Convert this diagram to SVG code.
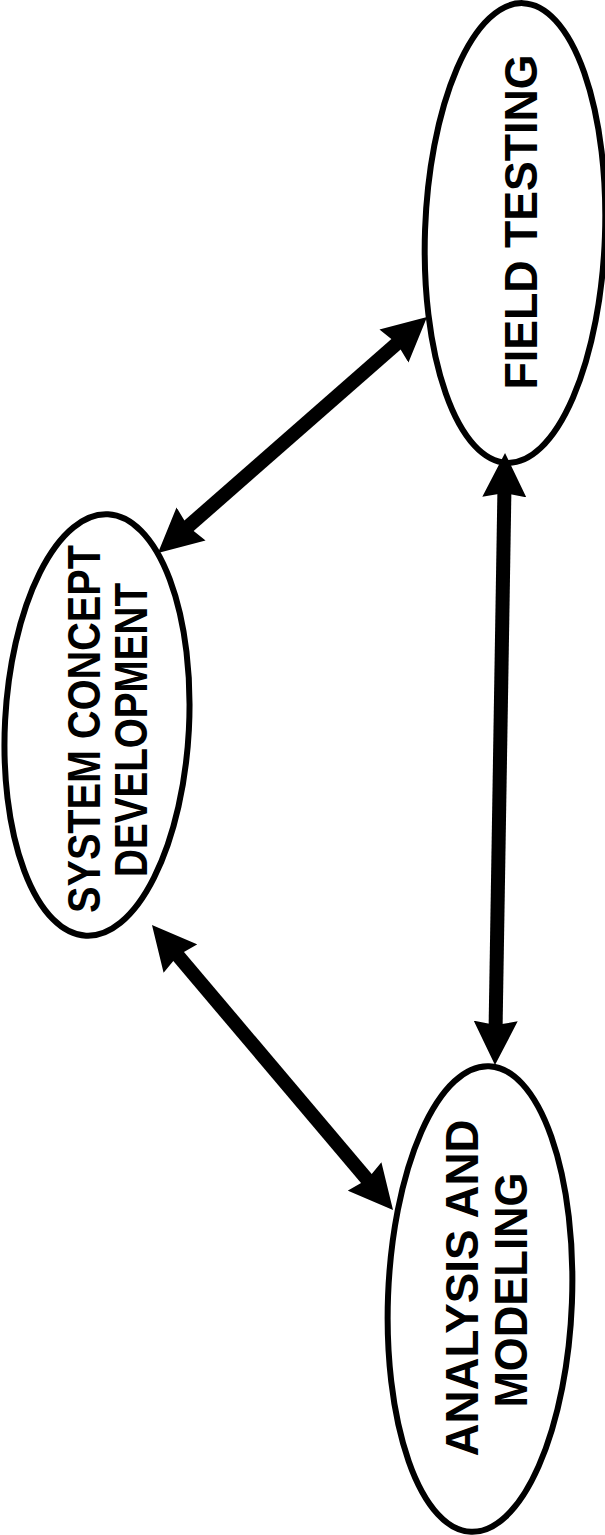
<svg xmlns="http://www.w3.org/2000/svg" width="605" height="1535" viewBox="0 0 605 1535">
<style>
.node{fill:#fff;stroke:#000;stroke-width:6}
.lbl{font-family:"Liberation Sans",Arial,sans-serif;font-weight:bold;font-size:47px;fill:#000;text-anchor:middle}
.conn{stroke:#000;stroke-width:14;fill:none;marker-start:url(#ah);marker-end:url(#ah)}
</style>
<defs>
<marker id="ah" viewBox="0 0 44 44" refX="24" refY="22" markerWidth="44" markerHeight="44" markerUnits="userSpaceOnUse" orient="auto-start-reverse">
<path d="M0,0 L44,22 L0,44 L4,22 z" fill="#000"/>
</marker>
</defs>
<rect width="605" height="1535" fill="#fff"/>
<g id="n-system">
<ellipse class="node" cx="97" cy="725" rx="92" ry="211" transform="rotate(3 97 725)"/>
<text class="lbl" transform="translate(100 729) rotate(-90)" textLength="368" lengthAdjust="spacingAndGlyphs">SYSTEM CONCEPT</text>
<text class="lbl" transform="translate(147 730) rotate(-90)" textLength="294" lengthAdjust="spacingAndGlyphs">DEVELOPMENT</text>
</g>
<g id="n-field">
<ellipse class="node" cx="515" cy="233" rx="90" ry="230" transform="rotate(2 515 233)"/>
<text class="lbl" transform="translate(537 222) rotate(-90)" textLength="335" lengthAdjust="spacingAndGlyphs">FIELD TESTING</text>
</g>
<g id="n-analysis">
<ellipse class="node" cx="480" cy="1299" rx="92" ry="233" transform="rotate(2.2 480 1299)"/>
<text class="lbl" transform="translate(478 1288) rotate(-90)" textLength="337" lengthAdjust="spacingAndGlyphs">ANALYSIS AND</text>
<text class="lbl" transform="translate(527 1290) rotate(-90)" textLength="235" lengthAdjust="spacingAndGlyphs">MODELING</text>
</g>
<g id="connectors">
<line class="conn" x1="173" y1="539.8" x2="412" y2="330.2"/>
<line class="conn" x1="164.9" y1="940.3" x2="380.1" y2="1194.7"/>
<line class="conn" x1="504.7" y1="473" x2="495.3" y2="1045"/>
</g>
</svg>
